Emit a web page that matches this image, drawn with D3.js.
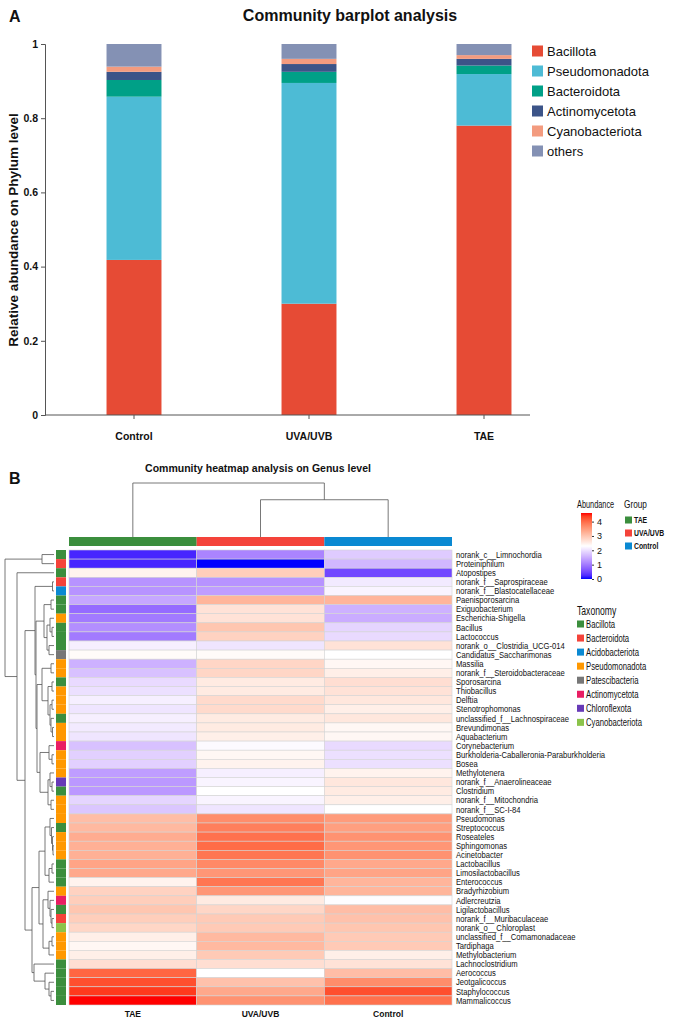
<!DOCTYPE html>
<html>
<head>
<meta charset="utf-8">
<script src="https://cdn.jsdelivr.net/npm/d3@7"></script>
<style>
  body { margin: 0; background: #fff; }
  text { font-family: "Liberation Sans", Arial, sans-serif; fill: #111; }
</style>
</head>
<body>
<svg id="fig"></svg>
<script>
// ---------- panel A data ----------
const groups = ["Control", "UVA/UVB", "TAE"];
const phyla = ["Bacillota", "Pseudomonadota", "Bacteroidota", "Actinomycetota", "Cyanobacteriota", "others"];
const phylaColors = ["#e64b35", "#4dbbd5", "#00a087", "#3c5488", "#f39b7f", "#8491b4"];
// values per group, in the order of `groups`
const bacillota       = [0.418, 0.300, 0.780];
const pseudomonadota  = [0.440, 0.595, 0.139];
const bacteroidota    = [0.045, 0.030, 0.023];
const actinomycetota  = [0.022, 0.021, 0.018];
const cyanobacteriota = [0.014, 0.014, 0.010];
const others          = [0.061, 0.040, 0.030];
const yTicks = [0, 0.2, 0.4, 0.6, 0.8, 1];

// ---------- panel B data ----------
const samples = ["TAE", "UVA/UVB", "Control"];
const sampleColors = ["#3b8e3d", "#f4433a", "#0a89d2"];
const genera = [
  "norank_c__Limnochordia", "Proteiniphilum", "Atopostipes", "norank_f__Saprospiraceae",
  "norank_f__Blastocatellaceae", "Paenisporosarcina", "Exiguobacterium", "Escherichia-Shigella",
  "Bacillus", "Lactococcus", "norank_o__Clostridia_UCG-014", "Candidatus_Saccharimonas",
  "Massilia", "norank_f__Steroidobacteraceae", "Sporosarcina", "Thiobacillus", "Delftia",
  "Stenotrophomonas", "unclassified_f__Lachnospiraceae", "Brevundimonas", "Aquabacterium",
  "Corynebacterium", "Burkholderia-Caballeronia-Paraburkholderia", "Bosea", "Methylotenera",
  "norank_f__Anaerolineaceae", "Clostridium", "norank_f__Mitochondria", "norank_f__SC-I-84",
  "Pseudomonas", "Streptococcus", "Roseateles", "Sphingomonas", "Acinetobacter",
  "Lactobacillus", "Limosilactobacillus", "Enterococcus", "Bradyrhizobium", "Adlercreutzia",
  "Ligilactobacillus", "norank_f__Muribaculaceae", "norank_o__Chloroplast",
  "unclassified_f__Comamonadaceae", "Tardiphaga", "Methylobacterium", "Lachnoclostridium",
  "Aerococcus", "Jeotgalicoccus", "Staphylococcus", "Mammalicoccus"
];
const taxa = ["Bacillota", "Bacteroidota", "Acidobacteriota", "Pseudomonadota",
  "Patescibacteria", "Actinomycetota", "Chloroflexota", "Cyanobacteriota"];
const taxaColors = ["#3b8e3d", "#f4433a", "#0a89d2", "#ff9800", "#777777", "#e91e63", "#673ab7", "#8bc34a"];
const generaTaxon = [
  "Bacillota", "Bacteroidota", "Bacillota", "Bacteroidota", "Acidobacteriota", "Bacillota",
  "Bacillota", "Pseudomonadota", "Bacillota", "Bacillota", "Bacillota", "Patescibacteria",
  "Pseudomonadota", "Pseudomonadota", "Bacillota", "Pseudomonadota", "Pseudomonadota",
  "Pseudomonadota", "Bacillota", "Pseudomonadota", "Pseudomonadota", "Actinomycetota",
  "Pseudomonadota", "Pseudomonadota", "Pseudomonadota", "Chloroflexota", "Bacillota",
  "Pseudomonadota", "Pseudomonadota", "Pseudomonadota", "Bacillota", "Pseudomonadota",
  "Pseudomonadota", "Pseudomonadota", "Bacillota", "Bacillota", "Bacillota", "Pseudomonadota",
  "Actinomycetota", "Bacillota", "Bacteroidota", "Cyanobacteriota", "Pseudomonadota",
  "Pseudomonadota", "Pseudomonadota", "Bacillota", "Bacillota", "Bacillota", "Bacillota", "Bacillota"
];
// abundance (log scale) per genus, one array per sample
const heatTAE = [0.2, 0.2, 2.45, 1.25, 1.25, 1.45, 0.85, 1.0, 1.2, 1.0, 2.15, 2.35, 1.55, 1.7,
  1.95, 2.0, 2.15, 2.05, 2.15, 2.1, 2.05, 1.7, 1.85, 1.85, 1.35, 1.3, 1.3, 1.9, 1.75, 3.1, 3.15,
  3.3, 3.25, 3.25, 3.4, 3.35, 2.45, 2.85, 2.9, 3.0, 2.9, 2.8, 2.5, 2.4, 2.5, 2.7, 4.05, 4.25, 4.4, 4.6];
const heatUVA = [1.1, 0.0, 2.9, 1.25, 1.35, 3.2, 2.65, 2.65, 3.0, 2.85, 2.05, 2.35, 2.8, 2.8,
  2.55, 2.55, 2.75, 2.75, 2.55, 2.55, 2.5, 2.25, 2.4, 2.45, 2.15, 2.2, 2.3, 2.2, 2.05, 3.65, 3.8,
  3.95, 4.0, 3.9, 3.7, 3.55, 3.9, 3.55, 2.55, 2.8, 2.95, 2.95, 3.15, 3.15, 2.95, 2.7, 2.3, 3.05, 3.35, 3.6];
const heatControl = [1.8, 1.6, 0.5, 2.1, 2.2, 3.2, 1.55, 1.5, 1.9, 1.95, 2.65, 2.3, 2.4, 2.5,
  2.7, 2.65, 2.6, 2.5, 2.6, 2.4, 2.4, 1.95, 2.0, 2.0, 2.45, 2.6, 2.55, 2.5, 2.3, 3.5, 3.45,
  3.6, 3.55, 3.6, 3.35, 3.4, 3.2, 3.2, 2.28, 3.1, 3.05, 3.0, 2.95, 2.95, 2.5, 2.65, 3.1, 3.65, 4.25, 3.95];
const abundanceTicks = [0, 1, 2, 3, 4];
const abundanceDomain = [0, 2.3, 4.6];

// clustering trees: [mergeHeight, left, right]; leaves are genus numbers (1-based)
const rowTree =
  [49, [12, 1, 2],
    [37, 3,
      [29,
        [19, [1.5, 4, 5],
          [18,
            [10, [3, 6, 7], [7, [4, 8, [2, 9, 10]], [5, 11, 12]]],
            [17,
              [12, [3, 13, 14], [6, [2, 15, 16], [4, [2, 17, 18], [3, 19, [1.5, 20, 21]]]]],
              [14, [5, 22, [2, 23, 24]], [6, [4, 25, [2, 26, 27]], [3, 28, 29]]]]]],
        [22,
          [15,
            [9, [4, 30, [2.5, 31, [1.5, 32, [1, 33, 34]]]], [5, [2, 35, 36], 37]],
            [11, [6, 38, [4, 39, [3, 40, [2, 41, 42]]]], [5, [2, 43, 44], 45]]],
          [20, 46, [9, 47, [5, 48, [3, 49, 50]]]]]]]];
const colTree = [1, "TAE", [0.69, "UVA/UVB", "Control"]];

// ---------- svg ----------
const svg = d3.select("#fig").attr("width", 680).attr("height", 1021);
svg.append("rect").attr("width", 680).attr("height", 1021).attr("fill", "#fff");

function narrow(sel, x, y, k) {
  return sel.attr("transform", `translate(${x},${y}) scale(${k},1)`);
}

// ================= panel A =================
svg.append("text").attr("x", 9).attr("y", 22)
  .attr("font-size", 16).attr("font-weight", "bold").text("A");
svg.append("text").attr("x", 350).attr("y", 21).attr("text-anchor", "middle")
  .attr("font-size", 16).attr("font-weight", "bold").text("Community barplot analysis");

const y = d3.scaleLinear().domain([0, 1]).range([415, 44]);
const x = d3.scaleBand().domain(groups).range([46.5, 571.5])
  .paddingInner(0.686).paddingOuter(0.343);

const series = [bacillota, pseudomonadota, bacteroidota, actinomycetota, cyanobacteriota, others];
const rows = groups.map((g, i) => {
  const r = { group: g };
  phyla.forEach((p, j) => r[p] = series[j][i]);
  return r;
});
const stacked = d3.stack().keys(phyla)(rows);

const gA = svg.append("g");
gA.selectAll("g.layer").data(stacked).join("g")
  .attr("fill", (d, i) => phylaColors[i])
  .selectAll("rect").data(d => d).join("rect")
  .attr("x", d => x(d.data.group))
  .attr("width", x.bandwidth())
  .attr("y", d => y(d[1]))
  .attr("height", d => y(d[0]) - y(d[1]));

const yAxis = gA.append("g").attr("transform", "translate(45,0)")
  .call(d3.axisLeft(y).tickValues(yTicks).tickSize(4).tickFormat(d3.format("")));
const xAxis = gA.append("g").attr("transform", "translate(0,415)")
  .call(d3.axisBottom(x).tickSize(4));
xAxis.select(".domain").remove();
xAxis.append("line").attr("x1", 45).attr("x2", 530).attr("stroke", "#555");
[yAxis, xAxis].forEach(a => {
  a.selectAll("path,line").attr("stroke", "#555");
  a.selectAll("text").attr("font-size", 10.5).attr("font-weight", "bold")
    .attr("font-family", "'Liberation Sans', Arial, sans-serif").attr("fill", "#111");
});
xAxis.selectAll("text").attr("dy", "1.7em");

svg.append("text")
  .attr("transform", "translate(18,230) rotate(-90)")
  .attr("text-anchor", "middle").attr("font-size", 13.5).attr("font-weight", "bold")
  .text("Relative abundance on Phylum level");

const legA = svg.append("g").selectAll("g").data(phyla).join("g")
  .attr("transform", (d, i) => `translate(532,${51 + i * 20})`);
legA.append("rect").attr("y", -5.5).attr("width", 11).attr("height", 11)
  .attr("fill", (d, i) => phylaColors[i]);
legA.append("text").attr("x", 15).attr("y", 4.5).attr("font-size", 13).text(d => d);

// ================= panel B =================
svg.append("text").attr("x", 9).attr("y", 484)
  .attr("font-size", 16).attr("font-weight", "bold").text("B");
svg.append("text").attr("x", 258).attr("y", 472).attr("text-anchor", "middle")
  .attr("font-size", 10.5).attr("font-weight", "bold")
  .text("Community heatmap analysis on Genus level");

const cx = d3.scaleBand().domain(samples).range([69, 452]);
const ry = d3.scaleBand().domain(genera).range([550, 1005]);
const heatColor = d3.scaleLinear().domain(abundanceDomain)
  .range(["#0000ff", "#ffffff", "#ff0000"]).interpolate(d3.interpolateLab);

const heatCols = [heatTAE, heatUVA, heatControl];
const cells = [];
samples.forEach((s, j) => genera.forEach((g, i) => cells.push({ s, g, v: heatCols[j][i] })));

const gB = svg.append("g");
gB.selectAll("rect.cell").data(cells).join("rect")
  .attr("x", d => cx(d.s)).attr("y", d => ry(d.g))
  .attr("width", cx.bandwidth()).attr("height", ry.bandwidth())
  .attr("fill", d => heatColor(d.v))
  .attr("stroke", "#d4d4d4").attr("stroke-width", 0.6);

// group colour bar
gB.selectAll("rect.grp").data(samples).join("rect")
  .attr("x", d => cx(d)).attr("y", 537).attr("width", cx.bandwidth()).attr("height", 9)
  .attr("fill", (d, i) => sampleColors[i]);

// taxonomy strip
const taxColor = d3.scaleOrdinal().domain(taxa).range(taxaColors);
gB.selectAll("rect.tax").data(genera).join("rect")
  .attr("x", 56).attr("y", d => ry(d)).attr("width", 10).attr("height", ry.bandwidth())
  .attr("fill", (d, i) => taxColor(generaTaxon[i]));

// row labels
gB.selectAll("text.row").data(genera).join("text")
  .attr("font-size", 9)
  .each(function (d) {
    narrow(d3.select(this), 456, ry(d) + ry.bandwidth() / 2 + 3.2, 0.85);
  })
  .text(d => d);

// column labels
gB.selectAll("text.col").data(samples).join("text")
  .attr("x", d => cx(d) + cx.bandwidth() / 2).attr("y", 1017)
  .attr("text-anchor", "middle").attr("font-size", 8.5).attr("font-weight", "bold")
  .text(d => d);

// dendrograms
const lineCol = "#555";
function drawTree(root, leafPos, hScale, horizontal, g) {
  function walk(node) {
    if (!Array.isArray(node)) return { p: leafPos(node), h: 0 };
    const [h, a, b] = node;
    const ca = walk(a), cb = walk(b);
    const p = (ca.p + cb.p) / 2;
    const seg = (p1, h1, p2, h2) => {
      const l = g.append("line").attr("stroke", lineCol).attr("stroke-width", 0.8);
      if (horizontal) l.attr("x1", hScale(h1)).attr("x2", hScale(h2)).attr("y1", p1).attr("y2", p2);
      else l.attr("y1", hScale(h1)).attr("y2", hScale(h2)).attr("x1", p1).attr("x2", p2);
    };
    seg(ca.p, h, cb.p, h);
    seg(ca.p, h, ca.p, ca.h);
    seg(cb.p, h, cb.p, cb.h);
    return { p, h };
  }
  walk(root);
}
const hx = d3.scaleLinear().domain([0, 49]).range([54, 5]);
drawTree(rowTree, i => ry(genera[i - 1]) + ry.bandwidth() / 2, hx, true, gB.append("g"));
const hy = d3.scaleLinear().domain([0, 1]).range([537, 483]);
drawTree(colTree, s => cx(s) + cx.bandwidth() / 2, hy, false, gB.append("g"));

// abundance colour bar
const defs = svg.append("defs");
const grad = defs.append("linearGradient").attr("id", "abGrad")
  .attr("x1", 0).attr("x2", 0).attr("y1", 1).attr("y2", 0);
d3.range(0, 1.0001, 0.05).forEach(t => {
  const v = abundanceDomain[0] + t * (abundanceDomain[2] - abundanceDomain[0]);
  grad.append("stop").attr("offset", t).attr("stop-color", heatColor(v));
});
const ab = d3.scaleLinear().domain([abundanceDomain[0], abundanceDomain[2]]).range([579, 513]);
svg.append("rect").attr("x", 581).attr("y", ab(abundanceDomain[2])).attr("width", 11)
  .attr("height", ab(abundanceDomain[0]) - ab(abundanceDomain[2])).attr("fill", "url(#abGrad)");
const abAxis = svg.append("g").attr("transform", "translate(592,0)")
  .call(d3.axisRight(ab).tickValues(abundanceTicks).tickSize(2).tickFormat(d3.format("d")));
abAxis.select(".domain").remove();
abAxis.selectAll("line").attr("stroke", "#333");
abAxis.selectAll("text").attr("font-size", 9)
  .attr("font-family", "'Liberation Sans', Arial, sans-serif").attr("fill", "#111");
narrow(svg.append("text").attr("font-size", 10.5), 577, 508, 0.7).text("Abundance");

// group legend
narrow(svg.append("text").attr("font-size", 11), 624, 508, 0.75).text("Group");
const legG = svg.append("g").selectAll("g").data(samples).join("g")
  .attr("transform", (d, i) => `translate(625,${520 + i * 13})`);
legG.append("rect").attr("y", -3.5).attr("width", 7).attr("height", 7)
  .attr("fill", (d, i) => sampleColors[i]);
legG.append("text").attr("font-size", 9.5).attr("font-weight", "bold")
  .each(function () { narrow(d3.select(this), 9, 3.3, 0.72); })
  .text(d => d);

// taxonomy legend
narrow(svg.append("text").attr("font-size", 12), 577, 615, 0.72).text("Taxonomy");
const legT = svg.append("g").selectAll("g").data(taxa).join("g")
  .attr("transform", (d, i) => `translate(577,${624 + i * 14.05})`);
legT.append("rect").attr("y", -3.5).attr("width", 7).attr("height", 7)
  .attr("fill", (d, i) => taxaColors[i]);
legT.append("text").attr("font-size", 10)
  .each(function () { narrow(d3.select(this), 9, 3.5, 0.77); })
  .text(d => d);
</script>
</body>
</html>
